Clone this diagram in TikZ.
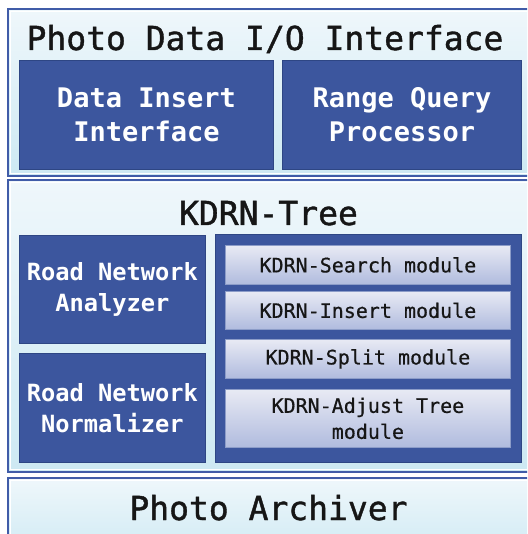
\documentclass[tikz,border=0pt]{standalone}
\usepackage{fontspec}
\newfontfamily\monofnt{DejaVu Sans Mono}
\newfontfamily\monomed[FakeBold=1.2]{DejaVu Sans Mono}
\newfontfamily\monolite[FakeBold=0.6]{DejaVu Sans Mono}
\definecolor{boxblue}{RGB}{60,86,158}
\definecolor{edgeblue}{RGB}{64,92,168}
\definecolor{darkedge}{RGB}{46,70,132}
\definecolor{panetop}{RGB}{239,247,251}
\definecolor{panebot}{RGB}{205,233,243}
\definecolor{modtop}{RGB}{232,234,244}
\definecolor{modbot}{RGB}{176,187,222}
\definecolor{modedge}{RGB}{140,156,200}
\definecolor{ink}{RGB}{22,22,22}
\tikzset{
  pane/.style={draw=edgeblue, line width=2.2pt, top color=panetop, bottom color=panebot},
  paneinner/.style={draw=white, line width=0.7pt},
  bluebox/.style={draw=darkedge, line width=0.8pt, fill=boxblue, text=white, align=center, inner sep=0pt, anchor=north west},
  modbox/.style={draw=modedge, line width=0.8pt, top color=modtop, bottom color=modbot, text=ink, align=center, inner sep=0pt, anchor=north west,
    font=\monolite\fontsize{20}{26}\selectfont},
  titletext/.style={text=ink, anchor=base, inner sep=0pt, font=\monomed\fontsize{33}{38}\selectfont},
}
\begin{document}
\begin{tikzpicture}[x=1pt,y=-1pt]
\clip (0,0) rectangle (527,534);
\fill[white] (0,0) rectangle (527,534);
% outer panes
\draw[pane] (8,9) rectangle (545,176);
\draw[paneinner] (10.6,11.6) rectangle (545,173.4);
\draw[pane] (8,180) rectangle (545,472);
\draw[paneinner] (10.6,182.6) rectangle (545,469.4);
\draw[pane] (8,478) rectangle (545,560);
\draw[paneinner] (10.6,480.6) rectangle (545,560);
% titles
\node[titletext] (t1) at (265,50) {Photo Data I/O Interface};
\node[titletext] (t2) at (268.5,225) {KDRN-Tree};
\node[titletext] (t3) at (268.5,520) {Photo Archiver};
% top boxes
\node[bluebox, minimum width=254pt, minimum height=109pt, font=\monofnt\bfseries\fontsize{27}{34}\selectfont] (dii) at (19,60) {Data Insert\\Interface};
\node[bluebox, minimum width=239pt, minimum height=109pt, font=\monofnt\bfseries\fontsize{27}{34}\selectfont] (rqp) at (282,60) {Range Query\\Processor};
% left boxes
\node[bluebox, minimum width=186pt, minimum height=108pt, font=\monofnt\bfseries\fontsize{23.7}{31}\selectfont] (rna) at (19,235) {Road Network\\Analyzer};
\node[bluebox, minimum width=186pt, minimum height=109pt, font=\monofnt\bfseries\fontsize{23.7}{31}\selectfont] (rnn) at (19,353) {Road Network\\Normalizer};
% module panel
\node[bluebox, minimum width=306pt, minimum height=228pt] (panel) at (215,234) {};
\node[modbox, minimum width=285pt, minimum height=39pt] (search) at (225,245) {KDRN-Search module};
\node[modbox, minimum width=285pt, minimum height=38pt] (insert) at (225,291) {KDRN-Insert module};
\node[modbox, minimum width=285pt, minimum height=39pt] (split) at (225,339) {KDRN-Split module};
\node[modbox, minimum width=285pt, minimum height=58pt] (adjust) at (225,389) {KDRN-Adjust Tree\\module};
\end{tikzpicture}
\end{document}
